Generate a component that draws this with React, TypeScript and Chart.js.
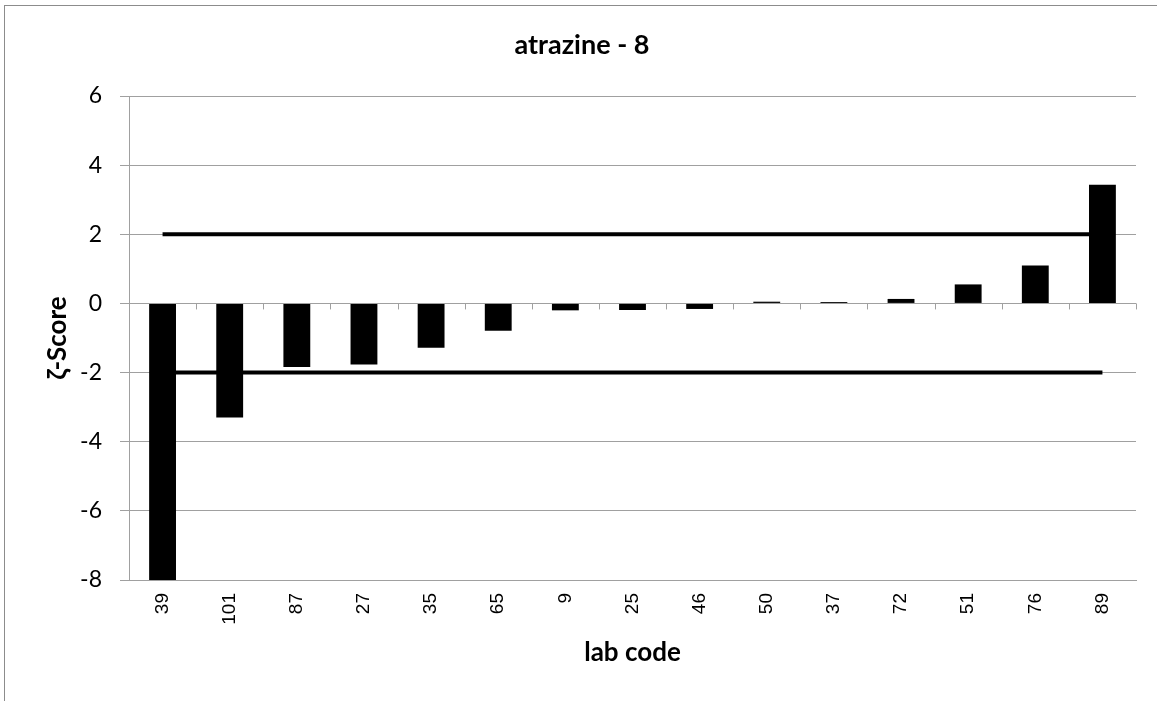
import React, { useEffect, useRef } from "react";
import { Chart, registerables } from "chart.js";

Chart.register(...registerables);

const labCodes = ["39", "101", "87", "27", "35", "65", "9", "25", "46", "50", "37", "72", "51", "76", "89"];
const zetaScores = [-8.1, -3.3, -1.84, -1.77, -1.28, -0.79, -0.2, -0.19, -0.16, 0.05, 0.04, 0.13, 0.55, 1.1, 3.43];
const upperLimit = 2;
const lowerLimit = -2;
const yTickMin = -8;
const yTickMax = 6;
const yTickStep = 2;

const chartTitle = "atrazine - 8";
const xTitle = "lab code";
const yTitle = "ζ-Score";

const GRID = "#a0a0a0";

const zeroTicksPlugin = {
  id: "zeroTicks",
  afterDatasetsDraw(chart: any) {
    const x = chart.scales.x;
    const y = chart.scales.y;
    const ctx = chart.ctx;
    const y0 = y.getPixelForValue(0);
    ctx.save();
    ctx.strokeStyle = GRID;
    ctx.lineWidth = 1;
    for (let i = 0; i <= labCodes.length; i++) {
      const px = Math.round(x.getPixelForValue(i - 0.5)) + 0.5;
      ctx.beginPath();
      ctx.moveTo(px, y0);
      ctx.lineTo(px, y0 + 6);
      ctx.stroke();
    }
    ctx.restore();
  },
};

export default function App() {
  const ref = useRef<HTMLCanvasElement | null>(null);

  useEffect(() => {
    if (!ref.current) return;
    const chart = new Chart(ref.current, {
      type: "bar",
      data: {
        labels: labCodes,
        datasets: [
          {
            type: "bar",
            data: zetaScores,
            backgroundColor: "#000000",
            borderWidth: 0,
            barPercentage: 0.4,
            categoryPercentage: 1,
            order: 0,
          } as any,
          {
            type: "line",
            data: labCodes.map(() => upperLimit),
            borderColor: "#000000",
            borderWidth: 4,
            pointRadius: 0,
            fill: false,
            order: 1,
          } as any,
          {
            type: "line",
            data: labCodes.map(() => lowerLimit),
            borderColor: "#000000",
            borderWidth: 4,
            pointRadius: 0,
            fill: false,
            order: 1,
          } as any,
        ],
      },
      options: {
        animation: false,
        responsive: false,
        maintainAspectRatio: false,
        layout: { padding: { left: 28, right: 21, top: 0, bottom: 0 } },
        plugins: {
          legend: { display: false },
          tooltip: { enabled: false },
          title: {
            display: true,
            text: chartTitle,
            color: "#000000",
            font: { family: "Lato", size: 27, weight: "bold", lineHeight: 1.2 },
            padding: { top: 28.8, bottom: 34.8 },
          },
        },
        scales: {
          x: {
            type: "category",
            offset: true,
            grid: { display: false, drawTicks: false },
            border: { display: true, color: GRID, width: 1 },
            ticks: {
              color: "#000000",
              font: { family: "Liberation Sans", size: 19 },
              minRotation: 90,
              maxRotation: 90,
              padding: 13,
              autoSkip: false,
            },
            title: {
              display: true,
              text: xTitle,
              color: "#000000",
              font: { family: "Lato", size: 26, weight: "bold", lineHeight: 1.2 },
              padding: { top: 0, bottom: 32.4 },
            },
            afterFit: (scale: any) => {
              scale.height = 121;
            },
          },
          y: {
            min: yTickMin,
            max: yTickMax,
            ticks: {
              stepSize: yTickStep,
              color: "#000000",
              font: { family: "Lato", size: 23 },
              padding: 18,
            },
            grid: { color: GRID, lineWidth: 1, tickLength: 9, drawTicks: true },
            border: { display: true, color: GRID, width: 1 },
            title: {
              display: true,
              text: yTitle,
              color: "#000000",
              font: { family: "Lato", size: 26, weight: "bold", lineHeight: 1.2 },
              padding: { top: 13.9, bottom: 0 },
            },
            afterFit: (scale: any) => {
              scale.width = 101;
            },
          },
        },
      } as any,
      plugins: [zeroTicksPlugin],
    });
    return () => chart.destroy();
  }, []);

  return (
    <div style={{ position: "absolute", left: 0, top: 0, width: 1157, height: 701, background: "#ffffff", overflow: "hidden" }}>
      <div
        style={{
          position: "absolute",
          left: 4,
          top: 5,
          width: 1200,
          height: 800,
          borderLeft: "1px solid #8c8c8c",
          borderTop: "1px solid #8c8c8c",
        }}
      />
      <canvas ref={ref} width={1157} height={701} style={{ position: "absolute", left: 0, top: 0, width: 1157, height: 701 }} />
    </div>
  );
}
